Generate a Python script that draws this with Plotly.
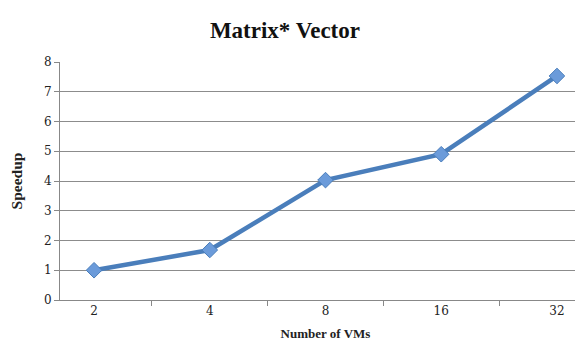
import plotly.graph_objects as go

categories = ["2", "4", "8", "16", "32"]
speedup = [1.0, 1.68, 4.03, 4.9, 7.53]
y_ticks = [0, 1, 2, 3, 4, 5, 6, 7, 8]

fig = go.Figure()
fig.add_trace(go.Scatter(
    x=categories, y=speedup, mode="lines+markers",
    line=dict(color="#4A7EBB", width=4.5),
    marker=dict(symbol="diamond", size=12, color="#6B9BDA",
                line=dict(color="#4A7EBB", width=1)),
    showlegend=False,
))

serif = "DejaVu Serif"
fig.update_layout(
    width=583, height=343,
    autosize=False,
    margin=dict(l=52, r=0, t=54, b=51, autoexpand=False),
    paper_bgcolor="white", plot_bgcolor="white",
    title=dict(text="<b>Matrix* Vector</b>", x=0.475, xanchor="center",
               y=0.935, yanchor="middle",
               font=dict(family="Liberation Serif", size=23, color="#111")),
    font=dict(family=serif, color="#222"),
    xaxis=dict(type="category", tickson="boundaries", ticks="outside",
               ticklen=5, tickcolor="#888", showline=True, linecolor="#888",
               showgrid=False, automargin=False,
               tickfont=dict(size=12, family=serif),
               title=dict(text="<b>Number of VMs</b>",
                          font=dict(size=13, family="Liberation Serif"),
                          standoff=11)),
    yaxis=dict(range=[0, 8], tickvals=y_ticks, ticks="outside", ticklen=5,
               tickcolor="#888", showline=True, linecolor="#888",
               showgrid=True, gridcolor="#8c8c8c", gridwidth=1,
               zeroline=False, automargin=False,
               tickfont=dict(size=12, family=serif),
               title=dict(text="<b>Speedup</b>",
                          font=dict(size=15.5, family="Liberation Serif"),
                          standoff=18)),
)

fig.write_html("out.html")
